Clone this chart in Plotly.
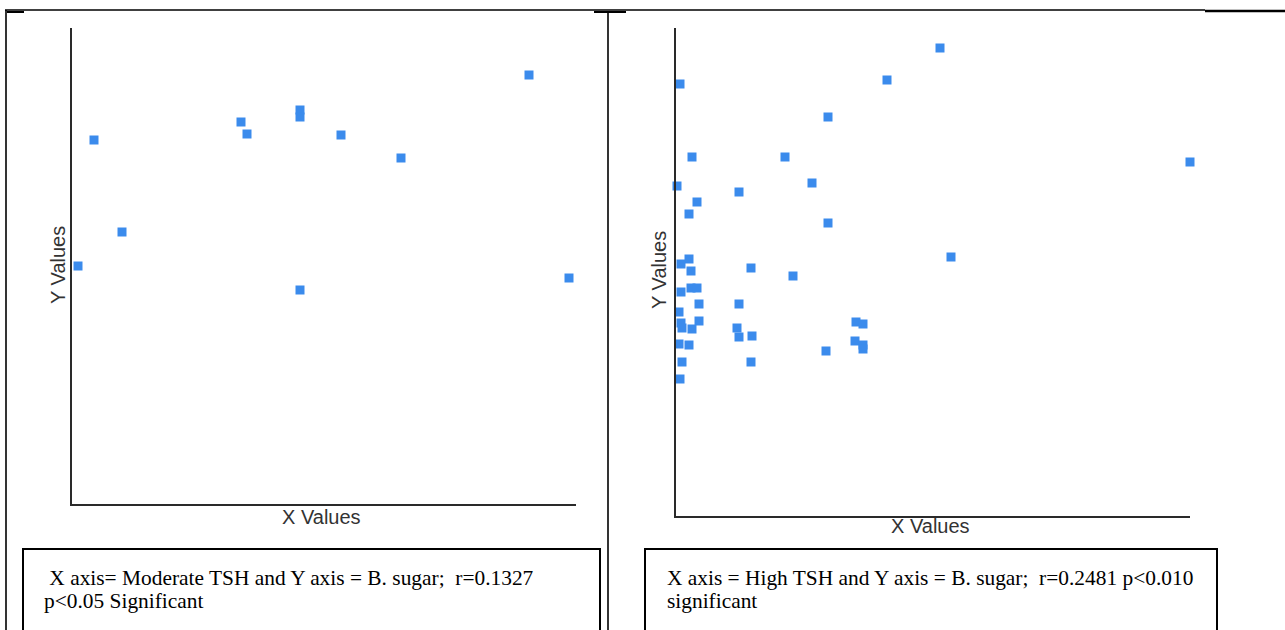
import plotly.graph_objects as go

W, H = 1285, 630

# ---- data (arbitrary units) ----
mod_tsh_x = [6, 22, 50, 169, 175, 228, 228, 269, 329, 457, 497, 228]
mod_sugar_y = [238, 364, 272, 382, 370, 394, 387, 369, 346, 429, 226, 214]

high_tsh_x = [4, 264, 211, 152, 16, 109, 514, -1, 1, -1, 136, 63, 21, -1, 13, -1, 152,
              275, 13, -1, 5, 15, 75, 117, 15, 21, 5, 23, 63, -1, 3, 5, 6, 23, 16, 61,
              63, 76, 180, 187, -1, 3, 13, 179, 187, 187, 150, 6, 75, 4]
high_sugar_y = [432, 468, 436, 399, 359, 359, 354, 334, 330, 326, 333, 324, 314, 310, 302,
                294, 293, 259, 257, 252, 252, 245, 248, 240, 228, 228, 224, 212, 212, 204,
                204, 193, 188, 195, 187, 188, 179, 180, 194, 192, 174, 172, 171, 175, 171,
                167, 165, 154, 154, 137]

captions_left = ["\u00a0X axis= Moderate TSH and Y axis = B. sugar;\u00a0 r=0.1327",
                 "p<0.05 Significant"]
captions_right = ["X axis = High TSH and Y axis = B. sugar;\u00a0 r=0.2481 p<0.010",
                  "significant"]


def px(x):
    return x / W


def py(y):
    return 1 - y / H


MARK = dict(symbol="square", size=9, color="#3b8bec", line=dict(width=0))

fig = go.Figure()
fig.add_trace(go.Scatter(x=mod_tsh_x, y=mod_sugar_y, mode="markers", marker=MARK,
                         xaxis="x", yaxis="y", cliponaxis=False, showlegend=False))
fig.add_trace(go.Scatter(x=high_tsh_x, y=high_sugar_y, mode="markers", marker=MARK,
                         xaxis="x2", yaxis="y2", cliponaxis=False, showlegend=False))

ax_common = dict(showticklabels=False, ticks="", showgrid=False, zeroline=False,
                 showline=True, linecolor="#2a2a2a", linewidth=1.6, fixedrange=True)

fig.update_layout(
    width=W, height=H,
    margin=dict(l=0, r=0, t=0, b=0),
    paper_bgcolor="white", plot_bgcolor="white",
    xaxis=dict(domain=[px(72), px(576)], range=[0, 504], anchor="y", **ax_common),
    yaxis=dict(domain=[py(504), py(28)], range=[0, 476], anchor="x", **ax_common),
    xaxis2=dict(domain=[px(676), px(1190)], range=[0, 514], anchor="y2", **ax_common),
    yaxis2=dict(domain=[py(516), py(28)], range=[0, 488], anchor="x2", **ax_common),
)

lab_font = dict(family="Liberation Sans, Arial, sans-serif", size=20, color="#333333")
annots = [
    dict(text="X Values", x=px(321), y=py(517), xref="paper", yref="paper",
         showarrow=False, font=lab_font, xanchor="center", yanchor="middle"),
    dict(text="Y Values", x=px(58), y=py(265), xref="paper", yref="paper",
         showarrow=False, font=lab_font, xanchor="center", yanchor="middle", textangle=-90),
    dict(text="X Values", x=px(930), y=py(526), xref="paper", yref="paper",
         showarrow=False, font=lab_font, xanchor="center", yanchor="middle"),
    dict(text="Y Values", x=px(659), y=py(270), xref="paper", yref="paper",
         showarrow=False, font=lab_font, xanchor="center", yanchor="middle", textangle=-90),
]
cap_font = dict(family="Liberation Serif, Times New Roman, serif", size=21.4, color="#000000")
for i, t in enumerate(captions_left):
    annots.append(dict(text=t, x=px(42), y=py(578 + 23 * i), xref="paper", yref="paper",
                       showarrow=False, font=cap_font, xanchor="left", yanchor="middle"))
for i, t in enumerate(captions_right):
    annots.append(dict(text=t, x=px(665), y=py(578 + 23 * i), xref="paper", yref="paper",
                       showarrow=False, font=cap_font, xanchor="left", yanchor="middle"))
fig.update_layout(annotations=annots)

line_k = dict(color="black", width=1.6)
shapes = [
    # outer frame lines
    dict(type="line", x0=px(5), x1=px(1205), y0=py(10), y1=py(10), line=line_k),
    dict(type="line", x0=px(1205), x1=px(1285), y0=py(11), y1=py(11), line=dict(color="black", width=2.5)),
    dict(type="line", x0=px(6), x1=px(6), y0=py(10), y1=py(630), line=line_k),
    dict(type="line", x0=px(7), x1=px(24), y0=py(12), y1=py(12), line=dict(color="black", width=2)),
    dict(type="line", x0=px(608), x1=px(608), y0=py(11), y1=py(630), line=line_k),
    dict(type="line", x0=px(594), x1=px(626), y0=py(12), y1=py(12), line=dict(color="black", width=2)),
    # caption boxes
    dict(type="rect", x0=px(23), x1=px(600), y0=py(549), y1=py(640),
         line=dict(color="black", width=2)),
    dict(type="rect", x0=px(645), x1=px(1217), y0=py(549), y1=py(640),
         line=dict(color="black", width=2)),
]
for s in shapes:
    s.update(xref="paper", yref="paper")
fig.update_layout(shapes=shapes)

fig.write_html("out.html", config={"displayModeBar": False},
               post_script="document.body.style.margin='0';document.body.style.overflow='hidden';")
